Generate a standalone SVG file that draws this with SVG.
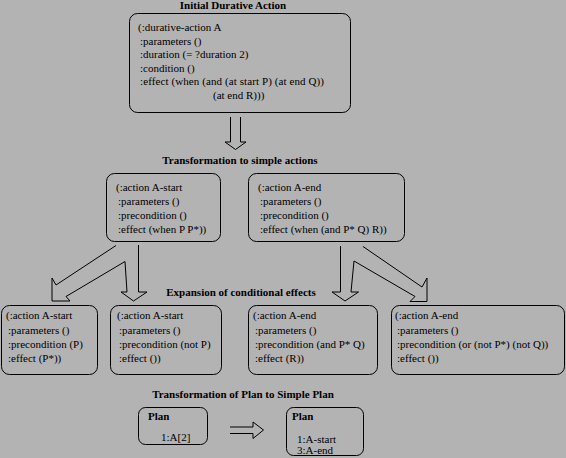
<svg xmlns="http://www.w3.org/2000/svg" width="566" height="458" viewBox="0 0 566 458">
<style>
.bg{fill:#b3b3b3}
.box{fill:none;stroke:#000;stroke-width:1}
.t{font-family:"Liberation Serif","Times New Roman",serif;font-size:11px;fill:#000}
.h{font-family:"Liberation Serif","Times New Roman",serif;font-size:11px;font-weight:bold;fill:#000}
.arr{fill:none;stroke:#000;stroke-width:1;stroke-linejoin:miter}
</style>
<rect class="bg" x="0" y="0" width="566" height="458"/>
<text class="h" x="233" y="9" text-anchor="middle">Initial Durative Action</text>
<g id="durative">
<rect class="box" x="129.5" y="13.5" width="221" height="99" rx="8"/>
<text class="t" x="138" y="31">(:durative-action A</text>
<text class="t" x="140" y="44.5">:parameters ()</text>
<text class="t" x="140" y="58">:duration (= ?duration 2)</text>
<text class="t" x="140" y="71.5">:condition ()</text>
<text class="t" x="140" y="85" textLength="184" lengthAdjust="spacing">:effect (when (and (at start P) (at end Q))</text>
<text class="t" x="213" y="98.5">(at end R)))</text>
</g>
<text class="h" x="240" y="164" text-anchor="middle">Transformation to simple actions</text>
<g id="a-start">
<rect class="box" x="106.5" y="173.5" width="114" height="68" rx="8"/>
<text class="t" x="116" y="191">(:action A-start</text>
<text class="t" x="118" y="205">:parameters ()</text>
<text class="t" x="118" y="219">:precondition ()</text>
<text class="t" x="118" y="233">:effect (when P P*))</text>
</g>
<g id="a-end">
<rect class="box" x="248.5" y="173.5" width="156" height="68" rx="8"/>
<text class="t" x="258" y="191">(:action A-end</text>
<text class="t" x="260" y="205">:parameters ()</text>
<text class="t" x="260" y="219">:precondition ()</text>
<text class="t" x="260" y="233">:effect (when (and P* Q) R))</text>
</g>
<text class="h" x="241" y="296" text-anchor="middle">Expansion of conditional effects</text>
<g id="a-start-1">
<rect class="box" x="1.5" y="305.5" width="96" height="69" rx="8"/>
<text class="t" x="6" y="319">(:action A-start</text>
<text class="t" x="8" y="333.5">:parameters ()</text>
<text class="t" x="8" y="347.5">:precondition (P)</text>
<text class="t" x="8" y="361.5">:effect (P*))</text>
</g>
<g id="a-start-2">
<rect class="box" x="110.5" y="305.5" width="111" height="69" rx="8"/>
<text class="t" x="117" y="319">(:action A-start</text>
<text class="t" x="119" y="333.5">:parameters ()</text>
<text class="t" x="119" y="347.5">:precondition (not P)</text>
<text class="t" x="119" y="361.5">:effect ())</text>
</g>
<g id="a-end-1">
<rect class="box" x="248.5" y="305.5" width="129" height="69" rx="8"/>
<text class="t" x="253" y="319">(:action A-end</text>
<text class="t" x="255" y="333.5">:parameters ()</text>
<text class="t" x="255" y="347.5">:precondition (and P* Q)</text>
<text class="t" x="255" y="361.5">:effect (R))</text>
</g>
<g id="a-end-2">
<rect class="box" x="391.5" y="305.5" width="173" height="69" rx="8"/>
<text class="t" x="395" y="319">(:action A-end</text>
<text class="t" x="397" y="333.5">:parameters ()</text>
<text class="t" x="397" y="347.5">:precondition (or (not P*) (not Q))</text>
<text class="t" x="397" y="361.5">:effect ())</text>
</g>
<text class="h" x="243" y="398" text-anchor="middle">Transformation of Plan to Simple Plan</text>
<g id="plan">
<rect class="box" x="138.5" y="407.5" width="69" height="37" rx="7"/>
<text class="h" x="148" y="420">Plan</text>
<text class="t" x="161" y="441">1:A[2]</text>
</g>
<g id="simple-plan">
<rect class="box" x="286.5" y="407.5" width="77" height="48" rx="7"/>
<text class="h" x="292" y="420">Plan</text>
<text class="t" x="297" y="443">1:A-start</text>
<text class="t" x="297" y="454">3:A-end</text>
</g>
<g id="connectors">
<polyline class="arr" points="230.5,117 230.5,142 225,142 235.5,149.5 246,142 240.5,142 240.5,117"/>
<polyline class="arr" points="116,245.5 56,285 52,278 52,301 70,301 66,296.5 125,261.5 127,292 121,292 133.5,301 147,292 138.5,292 138.5,245"/>
<polyline class="arr" points="363,246.5 422,287 427,278 427,301.5 410,301.5 415,296.5 354,261 351,292 358.5,292 345,301 332,292 340.5,292 340.5,246"/>
<polyline class="arr" points="230,427 253,427 253,422 263.5,430 253,438.5 253,433.5 230,433.5"/>
</g>
</svg>
